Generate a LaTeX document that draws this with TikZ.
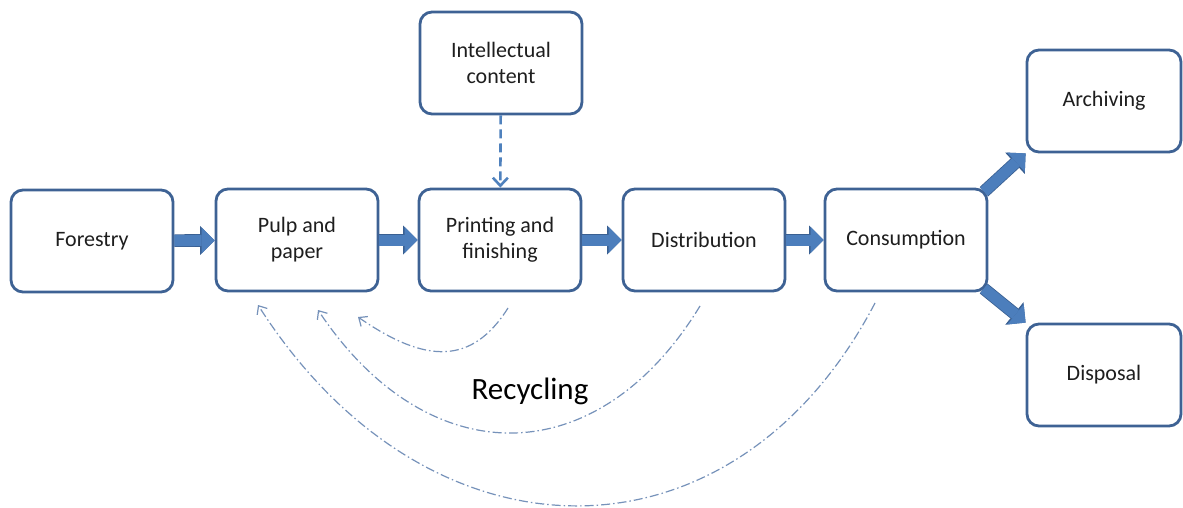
\documentclass[tikz,border=0pt]{standalone}
\usepackage{fontspec}
\setmainfont{Carlito}
\usepackage{tikz}
\usetikzlibrary{arrows.meta,calc}
\definecolor{BoxLine}{RGB}{62,98,148}
\definecolor{ArrowFill}{RGB}{76,126,188}
\definecolor{ArrowEdge}{RGB}{58,96,146}
\definecolor{DashBlue}{RGB}{79,129,189}
\definecolor{RecBlue}{RGB}{118,146,186}
\definecolor{TextGray}{RGB}{30,30,30}

\begin{document}
\begin{tikzpicture}[
 x=1pt, y=-1pt,
 stage/.style={draw=BoxLine, line width=2.8pt, fill=white, rounded corners=12pt, minimum width=162pt, minimum height=102pt, align=center, text=TextGray, font=\fontsize{22}{26}\selectfont},
 flow/.style={draw=ArrowFill, line width=11pt, -{Triangle[length=13pt,width=26pt,line width=0pt]},
   preaction={draw=ArrowEdge, line width=12.6pt, -{Triangle[length=14.5pt,width=29pt,line width=0pt]}}},
 feed/.style={draw=DashBlue, line width=2.6pt, dash pattern=on 9pt off 5pt, -{Straight Barb[length=8pt,width=15pt]}},
 recycle/.style={draw=RecBlue, line width=1.2pt, dash pattern=on 9pt off 3pt on 1.5pt off 3pt, -{Straight Barb[length=7pt,width=12pt]}}
]
\useasboundingbox (0,0) rectangle (1183,508);

\node[stage] (forest) at (92,241) {Forestry};
\node[stage] (pulp) at (297,240) {Pulp and\\paper};
\node[stage] (print) at (500,240) {Printing and\\finishing};
\node[stage] (dist) at (704,240) {Distribution};
\node[stage] (cons) at (906,240) {Consumption};
\node[stage] (intel) at (501,63) {Intellectual\\content};
\node[stage, minimum width=154pt] (arch) at (1104,101) {Archiving};
\node[stage, minimum width=154pt] (disp) at (1104,375) {Disposal};

\foreach \a/\b in {forest/pulp, pulp/print, print/dist, dist/cons} {\draw[flow] (\a) -- (\b);}
\draw[flow, shorten <=-6pt] (cons.north east) -- (arch.south west);
\draw[flow, shorten <=-6pt] (cons.south east) -- (disp.north west);

\draw[feed] (intel) -- (print);

% recycling loops back to pulp and paper
\coordinate (r1a) at (508,308);
\coordinate (r1b) at (358,317);
\coordinate (r2a) at (700,306);
\coordinate (r2b) at (318,310);
\coordinate (r3a) at (875,303);
\coordinate (r3b) at (258,305);
\draw[recycle] (r1a) .. controls (472,365) and (426,364) .. (r1b);
\draw[recycle] (r2a) .. controls (597,475) and (427,474) .. (r2b);
\draw[recycle] (r3a) .. controls (734,573) and (429,573) .. (r3b);
\node[text=black, font=\fontsize{31}{37}\selectfont] (rec) at (530,391) {Recycling};
\end{tikzpicture}
\end{document}
